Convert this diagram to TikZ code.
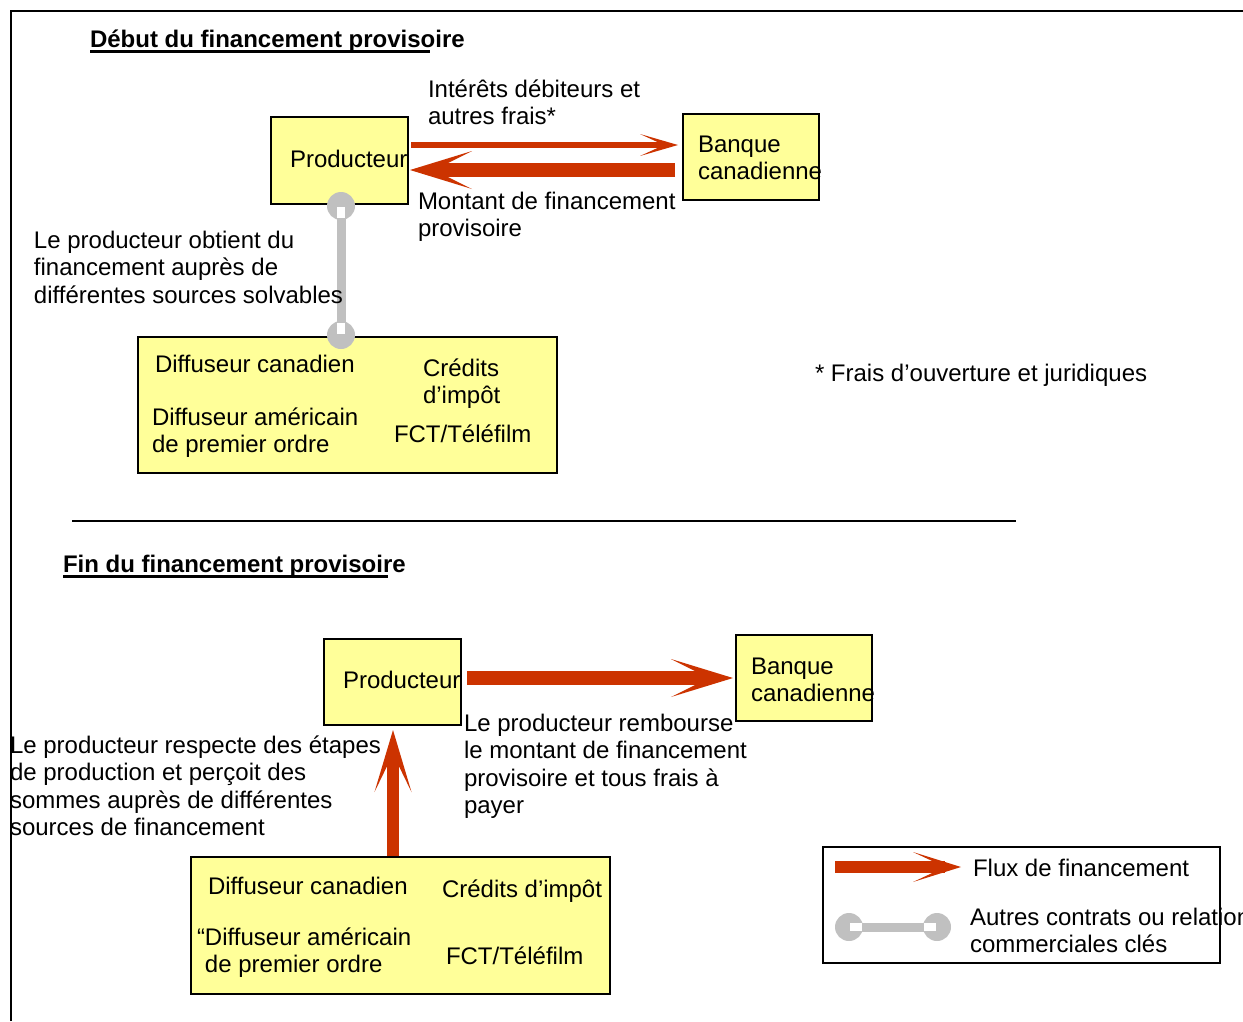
\documentclass[tikz,border=0pt]{standalone}
\usepackage{fontspec}
\setmainfont{Liberation Sans}
\usetikzlibrary{arrows.meta,calc}
\definecolor{flowred}{HTML}{CC3300}
\definecolor{linkgray}{HTML}{C0C0C0}
\definecolor{boxyellow}{HTML}{FFFF99}
\begin{document}
\begin{tikzpicture}[x=1pt,y=-1pt,
  every node/.style={inner sep=0pt, outer sep=0pt, font=\fontsize{24}{27.5}\selectfont},
  % multi-line texts are placed by the baseline of their last line
  txt/.style={anchor=base west, align=left},
  ttl/.style={anchor=base west, font=\fontsize{24}{27.5}\selectfont\bfseries},
  box/.style={draw=black, line width=1.5pt, fill=boxyellow, anchor=north west},
  flow/.style={draw=flowred, line width=14pt,
    -{Stealth[length=62pt, width=38pt, inset=38pt, line width=0pt]}},
  flowup/.style={draw=flowred, line width=12pt,
    -{Stealth[length=62pt, width=37pt, inset=38pt, line width=0pt]}},
  flowthin/.style={draw=flowred, line width=6pt,
    -{Stealth[length=38pt, width=22pt, inset=24pt, line width=0pt]}},
  flowkey/.style={draw=flowred, line width=12pt,
    -{Stealth[length=48pt, width=30pt, inset=32pt, line width=0pt]}},
  link/.style={draw=linkgray, line width=9pt},
  linkend/.style={fill=linkgray},
  linkcap/.style={fill=white}
]
\useasboundingbox (0,0) rectangle (1243,1021);

% outer frame (left and top edges)
\draw[line width=1.5pt] (11,1021) -- (11,11) -- (1243,11);

% ---------- first part ----------
\node[ttl] (t1) at (90,47) {Début du financement provisoire};
\draw[line width=2.5pt] (90,51.5) -- (430,51.5);

\node[box, minimum width=137pt, minimum height=87pt] (prod1) at (271,117) {};
\node[txt] (prod1t) at (290,167) {Producteur};
\node[box, minimum width=136pt, minimum height=86pt] (bank1) at (683,114) {};
\node[txt] (bank1t) at (698,179.5) {Banque\\canadienne};

\node[txt] (lab1) at (428,124.5) {Intérêts débiteurs et\\autres frais*};
\node[txt] (lab2) at (418,236.5) {Montant de financement\\provisoire};

\draw[flowthin] ($(prod1.east)+(3,-15.5)$) -- ($(bank1.west)+(-5,-12)$);
\draw[flow] ($(bank1.west)+(-8,13)$) -- ($(prod1.east)+(2,9.5)$);

\node[box, minimum width=419pt, minimum height=136pt] (src1) at (138,337) {};
\node[txt] (s1a) at (155,372) {Diffuseur canadien};
\node[txt] (s1b) at (152,452.5) {Diffuseur américain\\de premier ordre};
\node[txt] (s1c) at (423,403.5) {Crédits\\d’impôt};
\node[txt] (s1d) at (394,442) {FCT/Téléfilm};

% relation between producer and sources
\coordinate (l1a) at ($(prod1.south)+(1.5,2)$);
\coordinate (l1b) at ($(prod1.south |- src1.north)+(1.5,-2)$);
\draw[link] (l1a) -- (l1b);
\fill[linkend] (l1a) circle (14);
\fill[linkend] (l1b) circle (14);
\fill[linkcap] ($(l1a)+(-4,1)$) rectangle ($(l1a)+(4,12)$);
\fill[linkcap] ($(l1b)+(-4,-12)$) rectangle ($(l1b)+(4,-1)$);

\node[txt] (lab3) at (34,303) {Le producteur obtient du\\financement auprès de\\différentes sources solvables};

\node[txt] (note) at (815,381) {* Frais d’ouverture et juridiques};

% separator
\draw[line width=1.5pt] (72,521) -- (1016,521);

% ---------- second part ----------
\node[ttl] (t2) at (63,572) {Fin du financement provisoire};
\draw[line width=2.5pt] (63,576.5) -- (388,576.5);

\node[box, minimum width=137pt, minimum height=86pt] (prod2) at (324,639) {};
\node[txt] (prod2t) at (343,688) {Producteur};
\node[box, minimum width=136pt, minimum height=86pt] (bank2) at (736,635) {};
\node[txt] (bank2t) at (751,701.5) {Banque\\canadienne};

\draw[flow] ($(prod2.east)+(6,-4)$) -- ($(bank2.west)+(-3,0)$);
\node[txt] (lab4) at (464,813.5) {Le producteur rembourse\\le montant de financement\\provisoire et tous frais à\\payer};

\node[box, minimum width=419pt, minimum height=137pt] (src2) at (191,857) {};
\node[txt] (s2a) at (208,894) {Diffuseur canadien};
\node[txt] (s2b) at (197,972.5) {“Diffuseur américain\\\hphantom{“}de premier ordre};
\node[txt] (s2c) at (442,897) {Crédits d’impôt};
\node[txt] (s2d) at (446,964) {FCT/Téléfilm};

\draw[flowup] ($(prod2.south |- src2.north)+(0.5,-1)$) -- ($(prod2.south)+(0.5,5)$);
\node[txt] (lab5) at (10,835.5) {Le producteur respecte des étapes\\de production et perçoit des\\sommes auprès de différentes\\sources de financement};

% ---------- legend ----------
\node[draw=black, line width=1.5pt, anchor=north west, minimum width=397pt, minimum height=116pt] (leg) at (823,847) {};
\coordinate (la1) at (835,867);
\coordinate (la2) at (961,867);
\draw[flowkey] (la1) -- (la2);
\node[txt] (leg1) at (973,876) {Flux de financement};
\coordinate (lb1) at (849,927);
\coordinate (lb2) at (937,927);
\draw[link] (lb1) -- (lb2);
\fill[linkend] (lb1) circle (14);
\fill[linkend] (lb2) circle (14);
\fill[linkcap] ($(lb1)+(1,-4)$) rectangle ($(lb1)+(13,4)$);
\fill[linkcap] ($(lb2)+(-13,-4)$) rectangle ($(lb2)+(-1,4)$);
\node[txt] (leg2) at (970,952.5) {Autres contrats ou relations\\commerciales clés};
\end{tikzpicture}
\end{document}
